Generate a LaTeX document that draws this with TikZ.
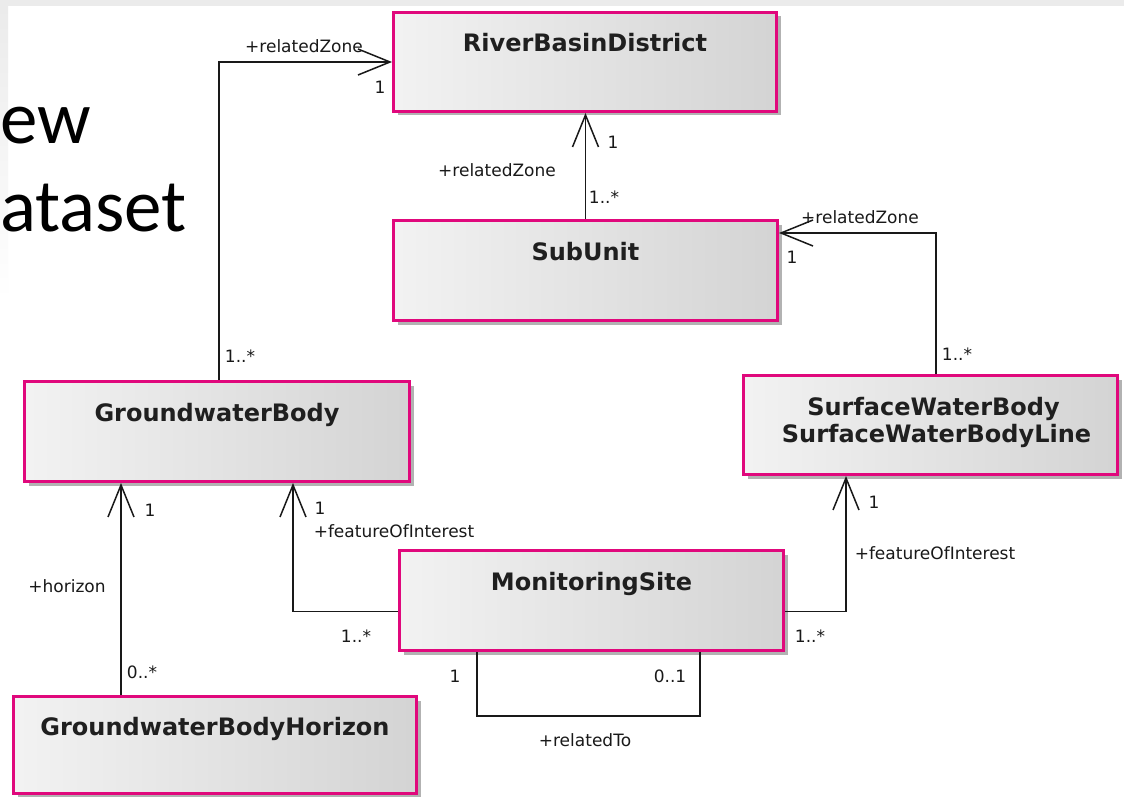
\documentclass[tikz,border=0pt]{standalone}
\usepackage{fontspec}
\usetikzlibrary{arrows.meta,shadows,calc}
\setmainfont{DejaVu Sans}
\newfontfamily\bigfont{Carlito}
\definecolor{pinkc}{HTML}{E0087C}
\definecolor{bandgray}{HTML}{EBEBEB}
\tikzset{
  cls/.style={rectangle, draw=pinkc, line width=3pt, left color=black!5, right color=black!17,
    drop shadow={shadow xshift=4pt, shadow yshift=-4pt, fill=black!30, opacity=1},
    inner sep=0pt},
  ttl/.style={font=\fontsize{24}{27}\selectfont\bfseries, inner sep=0pt,
    anchor=base, text=black!88},
  lab/.style={font=\fontsize{17}{19}\selectfont, inner sep=0pt, text=black!90},
  assoc/.style={line width=1.5pt, draw=black!90},
  nav/.style={assoc, -{Straight Barb[length=32pt,width=26pt,line width=1.5pt]}},
  bigtxt/.style={font=\bigfont\fontsize{75}{80}\selectfont, inner sep=0pt, anchor=base west}
}
\begin{document}
\begin{tikzpicture}[x=1pt,y=-1pt]
\useasboundingbox (0,0) rectangle (1124,797);
% background
\fill[white] (0,0) rectangle (1124,797);
\fill[bandgray] (0,0) rectangle (1124,6);
\shade[top color=bandgray, bottom color=white] (0,6) rectangle (8,300);
\node[bigtxt] (newtxt) at (0,143) {ew};
\node[bigtxt] (datatxt) at (0,231) {ataset};

% classes
\node[cls, minimum width=383pt, minimum height=99pt]  (rbd)  at (585,62)    {};
\node[cls, minimum width=384pt, minimum height=100pt] (sub)  at (585.5,270.5) {};
\node[cls, minimum width=385pt, minimum height=100pt] (gwb)  at (217,431.5) {};
\node[cls, minimum width=374pt, minimum height=99pt]  (swb)  at (930.5,425) {};
\node[cls, minimum width=384pt, minimum height=100pt] (ms)   at (591.5,600.5) {};
\node[cls, minimum width=403pt, minimum height=97pt]  (gwbh) at (215,745) {};

\node[ttl] (rbdT)  at ([yshift=-41pt]rbd.north)  {RiverBasinDistrict};
\node[ttl] (subT)  at ([yshift=-41pt]sub.north)  {SubUnit};
\node[ttl] (gwbT)  at ([yshift=-41pt]gwb.north)  {GroundwaterBody};
\node[ttl] (swbT)  at ([yshift=-41pt,xshift=3pt]swb.north)  {SurfaceWaterBody};
\node[ttl] (swbT2) at ([yshift=-68pt,xshift=6pt]swb.north)  {SurfaceWaterBodyLine};
\node[ttl] (msT)   at ([yshift=-41pt]ms.north)   {MonitoringSite};
\node[ttl] (gwbhT) at ([yshift=-40pt]gwbh.north) {GroundwaterBodyHorizon};

% connectors
\coordinate (swbbend) at (936,233);
\draw[nav] ([xshift=2pt]gwb.north) |- (rbd.west);
\draw[nav] (sub.north) -- (sub.north |- rbd.south);
\draw[nav] (swb.north -| swbbend) -- (swbbend) -- (swbbend -| sub.east);
\draw[nav] ([xshift=-94pt]gwbh.north) -- ([xshift=-94pt]gwbh.north |- gwb.south);
\draw[nav] ([yshift=-11pt]ms.west) -| ([xshift=76pt]gwb.south);
\draw[nav] ([yshift=-11pt]ms.east) -| ([xshift=-84.5pt]swb.south);
\draw[assoc] ([xshift=-114.5pt]ms.south) -- ++(0,64) -| ([xshift=108.5pt]ms.south);

% labels
\node[lab] (l1)  at (304,46)  {+relatedZone};
\node[lab] (l2)  at (380,87)  {1};
\node[lab] (l3)  at (240,356) {1..*};
\node[lab] (l4)  at (497,170) {+relatedZone};
\node[lab] (l5)  at (613,142) {1};
\node[lab] (l6)  at (604,197) {1..*};
\node[lab] (l7)  at (860,217) {+relatedZone};
\node[lab] (l8)  at (792,257) {1};
\node[lab] (l9)  at (957,354) {1..*};
\node[lab] (l10) at (150,510) {1};
\node[lab] (l11) at (67,586)  {+horizon};
\node[lab] (l12) at (142,672) {0..*};
\node[lab] (l13) at (320,508) {1};
\node[lab] (l14) at (394,531) {+featureOfInterest};
\node[lab] (l15) at (356,636) {1..*};
\node[lab] (l16) at (874,502) {1};
\node[lab] (l17) at (935,553) {+featureOfInterest};
\node[lab] (l18) at (810,636) {1..*};
\node[lab] (l19) at (455,676) {1};
\node[lab] (l20) at (670,676) {0..1};
\node[lab] (l21) at (585,740) {+relatedTo};
\end{tikzpicture}
\end{document}
